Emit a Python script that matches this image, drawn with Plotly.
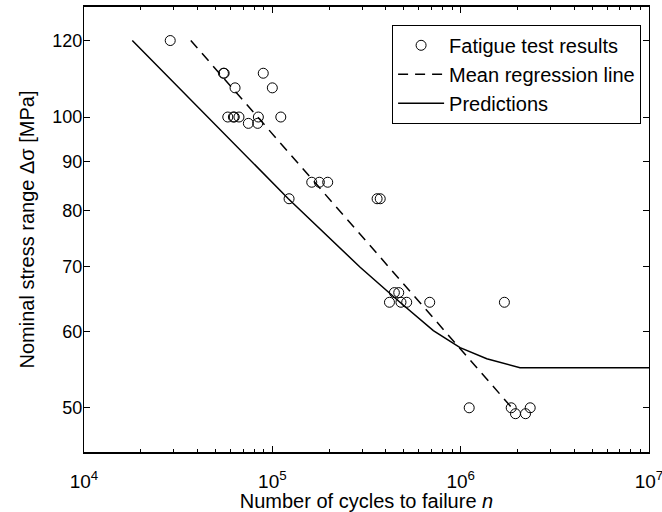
import plotly.graph_objects as go

# Fatigue test results (cycles, stress range MPa)
test_n = [28700, 55000, 55500, 63400, 89500, 100000, 58000, 62100, 62800, 66500,
          74600, 84300, 83600, 110900, 122700, 161900, 177700, 196800, 360000, 374000,
          418700, 444600, 469000, 482000, 517000, 685000, 1707000, 1110000, 1855000,
          1954000, 2210000, 2340000]
test_S = [120, 111, 111, 107.2, 111, 107.2, 100, 100, 100, 100,
          98.5, 100, 98.5, 100, 82.3, 85.6, 85.6, 85.6, 82.3, 82.3,
          64.3, 65.8, 65.8, 64.3, 64.3, 64.3, 64.3, 50, 50,
          49.3, 49.3, 50]

# Mean regression line
mean_n = [36900, 1870000]
mean_S = [120, 50]

# Predictions
pred_n = [18050, 121600, 292600, 476000, 716000, 993000, 1376000, 2066000, 10000000]
pred_S = [120, 82.3, 69.9, 64.3, 60.1, 57.7, 56.2, 55.0, 55.0]

x_ticks = [1e4, 1e5, 1e6, 1e7]
x_ticktext = ["10<sup>4</sup>", "10<sup>5</sup>", "10<sup>6</sup>", "10<sup>7</sup>"]
y_ticks = [50, 60, 70, 80, 90, 100, 120]
minor_x = [m * 10 ** k for k in range(4, 7) for m in range(2, 10)]

FONT = "Liberation Sans, Arial, Helvetica, sans-serif"

fig = go.Figure()
fig.add_trace(go.Scatter(x=test_n, y=test_S, mode="markers", name="Fatigue test results",
                         marker=dict(symbol="circle-open", size=10, color="black",
                                     line=dict(width=1, color="black"))))
fig.add_trace(go.Scatter(x=mean_n, y=mean_S, mode="lines", name="Mean regression line",
                         line=dict(color="black", width=1.5, dash="10px,7px")))
fig.add_trace(go.Scatter(x=pred_n, y=pred_S, mode="lines", name="Predictions",
                         line=dict(color="black", width=1.5)))

fig.update_layout(
    width=662, height=512,
    margin=dict(l=84, r=13, t=7, b=60, autoexpand=False),
    paper_bgcolor="white", plot_bgcolor="white",
    font=dict(family=FONT, color="black", size=18),
    showlegend=True,
    legend=dict(x=0.986, y=0.96, xanchor="right", yanchor="top",
                bordercolor="black", borderwidth=1, bgcolor="white",
                font=dict(size=20, family=FONT), tracegroupgap=0,
                itemwidth=46),
    xaxis=dict(type="log", range=[4, 7], tickvals=x_ticks, ticktext=x_ticktext,
               automargin=False,
               ticks="inside", ticklen=6, tickcolor="black", showgrid=False,
               zeroline=False, showline=True, linecolor="black", linewidth=1.5,
               mirror="ticks", ticklabeloverflow="allow", ticklabelstandoff=11,
               minor=dict(tickvals=minor_x, ticks="inside", ticklen=3,
                          tickcolor="black", showgrid=False),
               tickfont=dict(size=19),
               title=dict(text="Number of cycles to failure <i>n</i>",
                          font=dict(size=20), standoff=4)),
    yaxis=dict(type="log", range=[1.6532, 2.1139], tickvals=y_ticks,
               ticktext=[str(v) for v in y_ticks],
               automargin=False,
               ticks="inside", ticklen=6, tickcolor="black", showgrid=False,
               zeroline=False, showline=True, linecolor="black", linewidth=1,
               mirror="ticks", tickfont=dict(size=18), ticklabelstandoff=-3,
               title=dict(text="Nominal stress range Δσ [MPa]",
                          font=dict(size=20), standoff=12)),
)

fig.write_html("out.html")
